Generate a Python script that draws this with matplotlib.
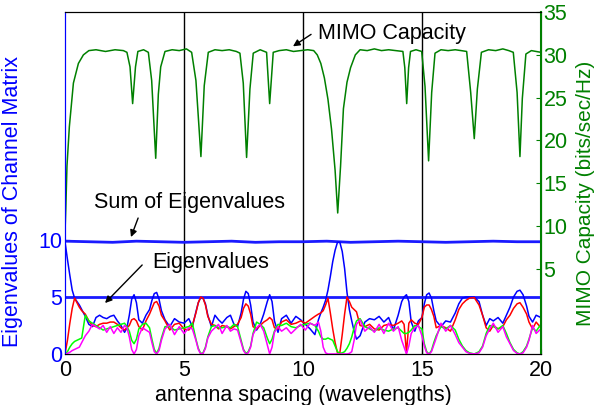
import matplotlib
matplotlib.use('Agg')
import matplotlib.pyplot as plt

plt.rcParams['font.family'] = ['Liberation Sans', 'DejaVu Sans']

# wspolna siatka x dla wartosci wlasnych
x_eig = [0, 0.1, 0.2, 0.3, 0.4, 0.5, 0.6, 0.7, 0.85, 1.0, 1.15, 1.3, 1.45, 1.6, 1.75, 1.9, 2.05, 2.2, 2.35, 2.5, 2.6,
         2.7, 2.8, 2.9, 3.0, 3.1,
         3.25, 3.4, 3.55,
         3.65, 3.75, 3.85, 3.95, 4.05,
         4.2, 4.4, 4.6, 4.8, 5.0, 5.2, 5.35,
         5.5, 5.6, 5.7, 5.8, 5.9, 6.0,
         6.15, 6.3, 6.45, 6.6, 6.8, 6.95, 7.1, 7.25,
         7.4, 7.5, 7.6, 7.7, 7.8, 7.9,
         8.05, 8.2, 8.35,
         8.5, 8.6, 8.7, 8.8,
         8.95, 9.1, 9.3, 9.5, 9.7, 9.9, 10.1, 10.3, 10.5, 10.65,
         10.75, 10.85, 10.95, 11.05, 11.15, 11.25, 11.35, 11.45, 11.55, 11.65, 11.75, 11.85, 11.95, 12.05, 12.15,
         12.25, 12.4, 12.6, 12.8, 13.0, 13.2, 13.4, 13.6, 13.8, 14.0, 14.15,
         14.25, 14.35, 14.45, 14.55,
         14.7, 14.85, 15.0,
         15.1, 15.2, 15.3, 15.4, 15.5,
         15.6, 15.8, 16.0, 16.2, 16.4, 16.55,
         16.7, 16.85, 17.0, 17.2, 17.4, 17.55, 17.7,
         17.85, 18.0, 18.2, 18.4, 18.55,
         18.7, 18.85, 19.0, 19.12, 19.25, 19.4, 19.5,
         19.65, 19.8, 20.0]

eig_blue = [9.8, 8.3, 6.9, 5.6, 4.9, 4.6, 4.3, 3.9, 3.3, 2.6, 2.4, 3.2, 3.4, 3.2, 3.1, 3.3, 3.4, 2.9, 2.5, 1.9, 2.3,
            3.4, 4.8, 5.2, 4.5, 3.0,
            2.7, 3.4, 3.9,
            4.7, 5.3, 5.4, 4.8, 3.8,
            3.0, 2.4, 3.1, 2.8, 2.7, 3.1, 2.4,
            3.7, 4.5, 4.95, 4.9, 4.4, 3.4,
            2.4, 3.4, 3.0, 2.7, 3.2, 3.4, 2.6, 2.4,
            3.6, 4.8, 5.5, 5.3, 4.3, 2.8,
            2.1, 2.6, 3.5,
            4.6, 5.2, 4.6, 2.9,
            1.9, 3.1, 3.4, 2.7, 3.3, 3.0, 2.6, 2.2, 1.7, 3.0,
            3.6, 4.1, 4.7, 5.6, 6.8, 8.1, 9.1, 9.8, 9.8, 9.0, 7.5, 5.4, 3.9, 2.9, 2.0,
            1.3, 1.6, 2.8, 3.1, 3.0, 3.3, 2.8, 3.2, 2.1, 3.4, 4.6,
            5.0, 5.2, 4.6, 2.8,
            2.0, 2.9, 3.2,
            4.4, 5.2, 5.35, 4.9, 3.8,
            2.9, 2.4, 2.9, 2.8, 3.6, 4.4,
            4.9, 5.0, 5.0, 5.0, 4.6, 3.4, 2.5,
            3.1, 2.9, 3.2, 2.7, 3.4,
            4.1, 5.0, 5.5, 5.6, 5.2, 4.2, 3.3,
            2.8, 3.4, 3.2]

eig_red = [0.05, 1.2, 2.7, 4.0, 4.9, 4.5, 4.1, 3.8, 3.5, 2.9, 2.5, 2.4, 2.6, 2.7, 2.7, 2.8, 2.8, 2.6, 2.3, 2.1, 2.3,
           2.5, 3.0, 3.1, 2.9, 2.4,
           2.1, 2.9, 3.5,
           4.0, 4.5, 4.6, 4.2, 3.4,
           2.9, 2.1, 2.6, 2.7, 2.2, 2.1, 2.5,
           3.6, 4.5, 5.0, 4.9, 4.3, 3.3,
           2.6, 2.5, 2.2, 2.5, 2.4, 2.2, 2.4, 2.6,
           3.2, 4.0, 4.4, 4.2, 3.5, 2.4,
           2.2, 2.5, 2.8,
           3.0, 3.2, 3.0, 2.3,
           2.2, 2.8, 3.0, 2.6, 2.7, 2.9, 2.7, 3.0, 3.3, 3.5,
           3.6, 3.8, 4.3, 4.9, 3.6, 2.2, 1.0, 0.1, 0.1, 1.7, 3.5, 5.0, 4.6, 4.1, 3.9,
           3.7, 2.5, 2.4, 2.6, 2.2, 2.1, 2.5, 2.6, 2.5, 2.7, 2.9,
           2.6, 0.1, 2.7, 3.0,
           2.7, 2.6, 3.2,
           4.1, 4.3, 4.3, 3.9, 3.3,
           2.3, 2.5, 2.3, 2.0, 3.0, 3.9,
           4.4, 4.7, 4.9, 4.95, 4.3, 3.4, 2.3,
           2.0, 2.5, 2.2, 2.4, 3.0,
           3.4, 4.0, 4.4, 4.5, 4.1, 3.5, 2.8,
           2.2, 2.8, 2.3]

eig_green = [0, 0.2, 0.6, 0.9, 1.1, 1.2, 1.3, 1.4, 3.4, 2.9, 2.7, 2.5, 2.3, 2.1, 2.2, 2.3, 2.4, 2.5, 2.6, 2.7, 2.4,
             2.0, 1.2, 0.9, 1.3, 2.2,
             2.6, 2.7, 2.3,
             1.3, 0.4, 0.05, 0.5, 1.4,
             2.4, 2.4, 2.1, 2.2, 2.3, 2.4, 2.7,
             1.3, 0.5, 0.05, 0.1, 0.6, 1.5,
             2.4, 2.5, 2.3, 2.3, 2.4, 2.3, 2.6, 2.4,
             1.2, 0.4, 0.05, 0.2, 0.7, 1.8,
             2.8, 2.6, 2.3,
             1.4, 0.9, 1.3, 2.0,
             2.6, 2.5, 2.7, 2.4, 2.3, 2.5, 2.6, 2.7, 2.5, 2.0,
             1.5, 1.3, 1.3, 1.4, 1.3, 1.2, 0.7, 0.2, 0.05, 0.1, 0.2, 0.5, 0.9, 1.5, 2.3,
             2.9, 3.1, 2.4, 2.2, 2.0, 2.3, 2.1, 2.0, 2.2, 2.3, 2.0,
             1.8, 1.8, 1.9, 2.1,
             2.5, 2.4, 2.2,
             0.9, 0.2, 0.0, 0.3, 1.0,
             1.6, 2.4, 2.2, 2.5, 2.1, 1.3,
             0.7, 0.3, 0.1, 0.0, 0.2, 0.7, 1.8,
             2.5, 2.4, 2.2, 2.5, 1.8,
             1.0, 0.4, 0.1, 0.0, 0.2, 0.7, 1.3,
             2.3, 2.0, 2.6]

eig_magenta = [0, 0.05, 0.15, 0.3, 0.4, 0.5, 0.6, 1.0, 1.6, 2.0, 2.6, 2.4, 2.2, 2.5, 1.9, 2.4, 1.8, 2.3, 1.9, 2.5, 2.3,
               1.5, 0.4, 0.0, 0.4, 1.6,
               2.3, 2.1, 1.9,
               1.0, 0.2, 0.0, 0.3, 1.2,
               2.2, 2.6, 1.7, 2.4, 1.8, 2.3, 2.2,
               1.2, 0.4, 0.0, 0.05, 0.5, 1.4,
               2.0, 2.3, 2.6, 1.8, 2.5, 2.0, 2.2, 2.1,
               1.0, 0.3, 0.0, 0.1, 0.6, 1.7,
               2.3, 2.6, 2.0,
               0.8, 0.0, 0.6, 1.9,
               2.4, 2.0, 2.3, 1.8, 2.2, 2.6, 2.1, 2.7, 2.5, 2.8,
               2.0, 0.6, 0.1, 0.0, 0.0, 0.0, 0.0, 0.0, 0.0, 0.0, 0.0, 0.0, 0.05, 0.2, 1.2,
               2.6, 3.0, 2.0, 2.4, 1.9, 2.6, 1.8, 2.7, 2.0, 2.4, 1.2,
               0.6, 0.0, 0.7, 1.8,
               2.3, 2.5, 1.6,
               0.7, 0.1, 0.0, 0.2, 0.8,
               1.4, 2.7, 2.0, 2.5, 1.7, 1.0,
               0.6, 0.2, 0.05, 0.0, 0.1, 0.6, 1.6,
               2.2, 2.7, 1.9, 2.4, 1.5,
               0.9, 0.3, 0.05, 0.0, 0.1, 0.6, 1.2,
               2.5, 1.8, 2.2]

# suma wartosci wlasnych
sum_x = [0, 1, 2, 3, 4, 5, 6, 7, 8, 9, 10, 11, 12, 13, 14, 15, 16, 17, 18, 19, 20]
sum_y = [9.9, 9.85, 9.8, 9.9, 9.85, 9.8, 9.85, 9.9, 9.8, 9.85, 9.85, 9.9, 9.8, 9.85, 9.9, 9.85, 9.8, 9.85, 9.9, 9.85, 9.85]

# przepustowosc MIMO
cap_x = [0, 0.03, 0.08, 0.18, 0.35, 0.56, 0.77, 1.0, 1.3, 1.7, 2.1, 2.45, 2.6, 2.73, 2.84, 2.96, 3.06, 3.3, 3.5, 3.64,
         3.81, 3.92, 4.02, 4.2, 4.5, 4.8, 5.1, 5.32, 5.5, 5.71, 5.85, 6.02, 6.3, 6.6, 6.9, 7.2, 7.35, 7.49, 7.63, 7.77,
         7.91, 8.2, 8.47, 8.6, 8.75, 9.0, 9.3, 9.6, 9.9, 10.2, 10.45, 10.6, 10.75, 10.9, 11.05, 11.2, 11.35, 11.46, 11.58, 11.7,
         11.85, 12.0, 12.2, 12.4, 12.7, 13.0, 13.3, 13.6, 13.9, 14.2, 14.28, 14.36, 14.44, 14.52, 14.75, 14.99, 15.13, 15.28, 15.41, 15.55,
         15.8, 16.1, 16.4, 16.65, 16.88, 17.05, 17.2, 17.33, 17.5, 17.8, 18.1, 18.4, 18.65, 18.84, 19.0, 19.12, 19.22, 19.37, 19.6, 19.8,
         20.0]
cap_y = [9.5, 12.0, 17.0, 21.6, 26.7, 29.0, 30.0, 30.5, 30.6, 30.4, 30.6, 30.5, 30.3, 28.6, 24.3, 28.6, 30.4, 30.6, 30.3, 27.0,
         17.9, 25.4, 28.6, 30.4, 30.6, 30.5, 30.7, 30.3, 27.0, 18.1, 26.4, 30.3, 30.6, 30.5, 30.6, 30.4, 30.2, 26.7, 18.0, 26.0,
         30.2, 30.6, 30.3, 24.3, 30.3, 30.5, 30.6, 30.4, 30.5, 30.6, 30.5, 30.0, 29.0, 27.3, 24.8, 21.3, 16.5, 11.5, 17.0, 23.7,
         26.8, 28.5, 30.0, 30.6, 30.5, 30.7, 30.5, 30.6, 30.5, 30.4, 28.5, 24.3, 28.5, 30.4, 30.6, 30.4, 26.3, 17.6, 25.6, 30.2,
         30.6, 30.5, 30.6, 30.5, 30.4, 25.6, 20.2, 26.0, 30.3, 30.6, 30.5, 30.7, 30.5, 30.3, 25.6, 18.1, 24.9, 30.1, 30.5, 30.4,
         30.3]

x_ticks = [0, 5, 10, 15, 20]
left_ticks = [0, 5, 10]
right_ticks = [5, 10, 15, 20, 25, 30, 35]

fig = plt.figure(figsize=(5.97, 4.05), dpi=100)
ax = fig.add_axes([0.109, 0.126, 0.797, 0.844])
ax2 = ax.twinx()

for xv in [5, 10, 15]:
    ax.axvline(xv, color='black', lw=1, zorder=1)

ax.axhline(5, color='#1a1aff', lw=2, zorder=2)
ax.plot(sum_x, sum_y, color='#1a1aff', lw=2, zorder=2)

ax.plot(x_eig, eig_blue, color='#0000ff', lw=1.1, zorder=3)
ax.plot(x_eig, eig_red, color='#ff0000', lw=1.1, zorder=3)
ax.plot(x_eig, eig_green, color='#00ff00', lw=1.1, zorder=3)
ax.plot(x_eig, eig_magenta, color='#ff00ff', lw=1.1, zorder=3)

ax2.plot(cap_x, cap_y, color='#008000', lw=1.1)

ax.set_xlim(0, 20)
ax.set_ylim(0, 30)
ax2.set_ylim(-5, 35)
ax.set_xticks(x_ticks)
ax.set_yticks(left_ticks)
ax2.set_yticks(right_ticks)

ax.tick_params(axis='x', direction='in', labelsize=15.5, colors='black', pad=4)
ax.tick_params(axis='y', direction='in', labelsize=15.5, colors='blue', pad=2)
ax2.tick_params(axis='y', direction='in', labelsize=15.5, colors='#008000', pad=2)

ax.spines['left'].set_color('blue')
ax2.spines['left'].set_color('blue')
ax2.spines['right'].set_color('#008000')
ax2.spines['right'].set_linewidth(1.5)

ax.set_xlabel('antenna spacing (wavelengths)', fontsize=15.5, labelpad=3)
ax.set_ylabel('Eigenvalues of Channel Matrix', fontsize=15.5, color='blue')
ax2.set_ylabel('MIMO Capacity (bits/sec/Hz)', fontsize=15, color='#008000')
ax.yaxis.set_label_coords(-0.088, 0.447)
ax2.yaxis.set_label_coords(1.074, 0.47)

arrow = dict(arrowstyle='-|>', color='black', lw=1, mutation_scale=10, shrinkA=0, shrinkB=0)
ax.text(10.63, 28.1, 'MIMO Capacity', fontsize=15.5, ha='left', va='center')
ax.annotate('', xy=(9.58, 27.0), xytext=(10.34, 28.05), arrowprops=arrow)
ax.text(5.21, 13.33, 'Sum of Eigenvalues', fontsize=15.5, ha='center', va='center')
ax.annotate('', xy=(2.77, 10.26), xytext=(3.07, 11.93), arrowprops=arrow)
ax.text(6.13, 8.07, 'Eigenvalues', fontsize=15.5, ha='center', va='center')
ax.annotate('', xy=(1.68, 4.47), xytext=(3.24, 7.81), arrowprops=arrow)

fig.savefig('out.png', dpi=100)
